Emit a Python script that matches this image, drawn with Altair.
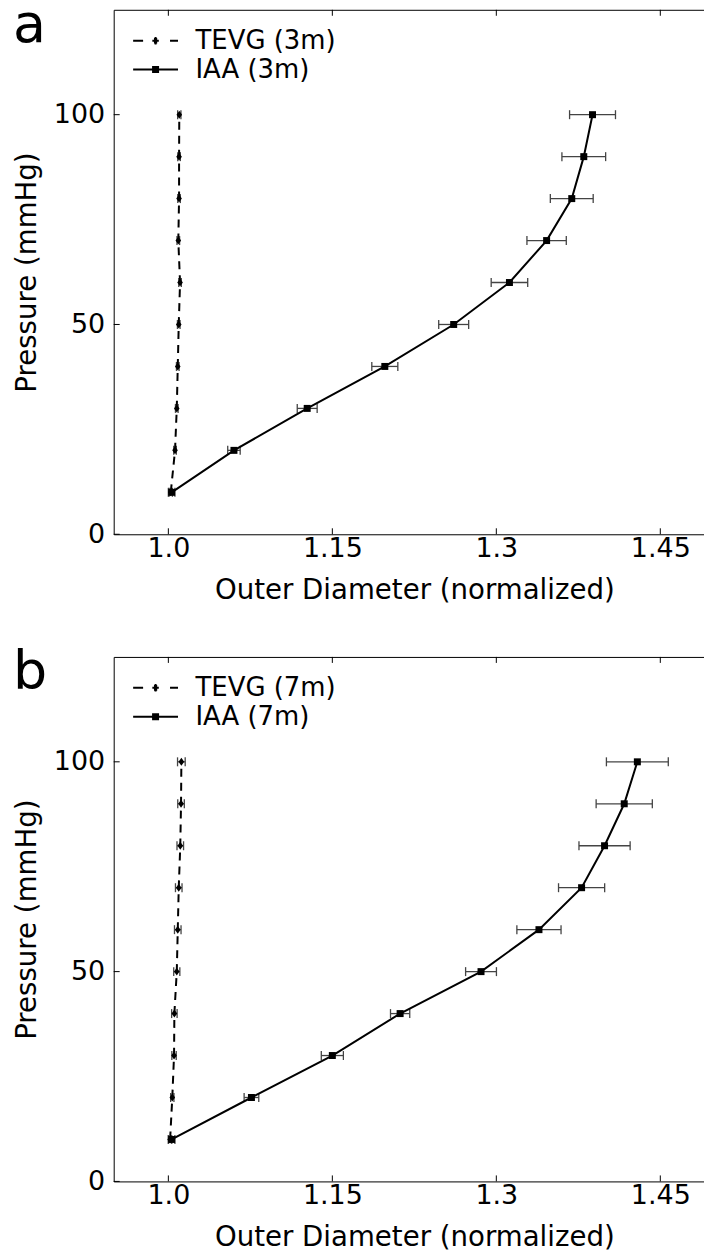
import json
import altair as alt
import pandas as pd

# ---------------- data ----------------
pressure = [10, 20, 30, 40, 50, 60, 70, 80, 90, 100]

tevg_3m = [1.0022, 1.0061, 1.0077, 1.0086, 1.0095, 1.0107, 1.0091, 1.0098, 1.0098, 1.0100]
tevg_3m_err = [0.0015, 0.0012, 0.0012, 0.0012, 0.0012, 0.0012, 0.0012, 0.0012, 0.0012, 0.0015]
iaa_3m = [1.003, 1.060, 1.127, 1.198, 1.261, 1.312, 1.346, 1.369, 1.380, 1.388]
iaa_3m_err = [0.003, 0.0057, 0.0091, 0.0119, 0.0137, 0.0167, 0.0180, 0.0196, 0.0200, 0.0210]

tevg_7m = [1.0016, 1.0036, 1.0052, 1.0055, 1.0077, 1.0086, 1.0095, 1.0109, 1.0116, 1.0119]
tevg_7m_err = [0.0015, 0.0015, 0.0020, 0.0025, 0.0028, 0.0030, 0.0030, 0.0030, 0.0030, 0.0035]
iaa_7m = [1.003, 1.076, 1.150, 1.212, 1.286, 1.339, 1.378, 1.399, 1.417, 1.429]
iaa_7m_err = [0.003, 0.0067, 0.0101, 0.0088, 0.0141, 0.0202, 0.0211, 0.0234, 0.0257, 0.0283]

panel_letters = ["a", "b"]
tevg_labels = ["TEVG (3m)", "TEVG (7m)"]
iaa_labels = ["IAA (3m)", "IAA (7m)"]

x_ticks = [1.0, 1.15, 1.3, 1.45]
x_tick_labels = ["1.0", "1.15", "1.3", "1.45"]
y_ticks = [0, 50, 100]
x_title = "Outer Diameter (normalized)"
y_title = "Pressure (mmHg)"

# ---------------- styling ----------------
FONT = "DejaVu Sans"
W, H = 603, 526
FS_LABEL = 27
FS_TITLE = 27.7
FS_LEGEND = 26
TICK = 6
TEVG_MARK = "M0,-1L0.7,0L0,1L-0.7,0Z"
# legend glyphs drawn with strokes only (unit = 9 px)
LEG_TEVG = ("M-2.5,0H-1.39M1.61,0H2.5"
            "M-0.36,0H0.36M0,-0.42V0.42M-0.18,-0.2H0.18M-0.18,0.2H0.18")
LEG_IAA = ("M-2.5,0H2.5"
           "M-0.39,-0.28H0.39M-0.39,-0.09H0.39M-0.39,0.09H0.39M-0.39,0.28H0.39")


def panel(letter, tevg, tevg_err, iaa, iaa_err, tevg_label, iaa_label):
    rows = []
    for name, vals, errs in ((tevg_label, tevg, tevg_err), (iaa_label, iaa, iaa_err)):
        for p, v, e in zip(pressure, vals, errs):
            rows.append({"series": name, "p": p, "x": v, "lo": v - e, "hi": v + e})
    df = pd.DataFrame(rows)

    xs = alt.Scale(domain=[0.95, 1.5], nice=False, zero=False)
    ys = alt.Scale(domain=[0, 125], nice=False)
    label_expr = f"{json.dumps(x_tick_labels)}[indexof({json.dumps(x_ticks)}, datum.value)]"
    x_axis = alt.Axis(values=x_ticks, labelExpr=label_expr, title=x_title, grid=False,
                      ticks=False, tickSize=0, domain=False, labelPadding=1, titlePadding=15)
    y_axis = alt.Axis(values=y_ticks, title=y_title, grid=False, ticks=False, tickSize=0,
                      domain=False, labelPadding=9, titlePadding=12)

    def X(f):
        return alt.X(f, scale=xs, axis=x_axis)

    def Y(f):
        return alt.Y(f, scale=ys, axis=y_axis)

    base = alt.Chart(df)
    err = base.mark_rule(color="#444444", strokeWidth=1.3).encode(
        x=X("lo:Q"), x2="hi:Q", y=Y("p:Q"))
    caps = base.transform_fold(["lo", "hi"], as_=["end", "xv"]).mark_tick(
        orient="vertical", size=9, thickness=1.3, color="#444444", opacity=1).encode(
        x=X("xv:Q"), y=Y("p:Q"))
    line_t = base.transform_filter(alt.datum.series == tevg_label).mark_line(
        color="black", strokeWidth=2, strokeDash=[8, 6]).encode(
        x=X("x:Q"), y=Y("p:Q"), order="p:Q")
    line_i = base.transform_filter(alt.datum.series == iaa_label).mark_line(
        color="black", strokeWidth=2).encode(x=X("x:Q"), y=Y("p:Q"), order="p:Q")
    pts_t = base.transform_filter(alt.datum.series == tevg_label).mark_point(
        shape=TEVG_MARK, filled=True, color="black", size=64, opacity=1).encode(
        x=X("x:Q"), y=Y("p:Q"))
    pts_i = base.transform_filter(alt.datum.series == iaa_label).mark_square(
        size=49, color="black", opacity=1).encode(x=X("x:Q"), y=Y("p:Q"))

    tx = alt.Chart(pd.DataFrame({"v": x_ticks}))
    ty = alt.Chart(pd.DataFrame({"v": y_ticks}))
    tick_b = tx.mark_rule(color="black", strokeWidth=1).encode(
        x=X("v:Q"), y=alt.value(H), y2=alt.value(H - TICK))
    tick_t = tx.mark_rule(color="black", strokeWidth=1).encode(
        x=X("v:Q"), y=alt.value(0), y2=alt.value(TICK))
    tick_l = ty.mark_rule(color="black", strokeWidth=1).encode(
        y=Y("v:Q"), x=alt.value(0), x2=alt.value(TICK))
    tick_r = ty.mark_rule(color="black", strokeWidth=1).encode(
        y=Y("v:Q"), x=alt.value(W - TICK), x2=alt.value(W))

    legend_layer = base.transform_filter("false").mark_point(
        filled=False, color="black", stroke="black", strokeWidth=2,
        size=81, opacity=1).encode(
        shape=alt.Shape("series:N",
                        scale=alt.Scale(domain=[tevg_label, iaa_label], range=[LEG_TEVG, LEG_IAA]),
                        legend=alt.Legend(title=None, orient="none", legendX=29, legendY=18,
                                          labelFontSize=FS_LEGEND, labelFont=FONT,
                                          labelColor="black", labelOffset=27, rowPadding=3,
                                          padding=0, symbolSize=324, symbolStrokeWidth=2,
                                          symbolStrokeColor="black")))

    letter_txt = alt.Chart(pd.DataFrame({"t": [letter]})).mark_text(
        font=FONT, fontSize=54, align="left", baseline="alphabetic", color="black").encode(
        text="t:N", x=alt.value(-101), y=alt.value(32.5))

    return alt.layer(err, caps, line_t, line_i, pts_t, pts_i, tick_b, tick_t, tick_l, tick_r,
                     legend_layer, letter_txt).properties(width=W, height=H)


pa = panel(panel_letters[0], tevg_3m, tevg_3m_err, iaa_3m, iaa_3m_err, tevg_labels[0], iaa_labels[0])
pb = panel(panel_letters[1], tevg_7m, tevg_7m_err, iaa_7m, iaa_7m_err, tevg_labels[1], iaa_labels[1])

chart = alt.vconcat(pa, pb, spacing=41).resolve_scale(shape="independent").resolve_legend(
    shape="independent").properties(
    padding={"left": 4, "top": -11, "right": -12, "bottom": 0}).configure_view(
    stroke="black", strokeWidth=1).configure_axis(
    labelFont=FONT, titleFont=FONT, labelFontSize=FS_LABEL, titleFontSize=FS_TITLE,
    labelColor="black", titleColor="black", titleFontWeight="normal")

chart.save("out.html", embed_options={"renderer": "svg", "actions": False})
